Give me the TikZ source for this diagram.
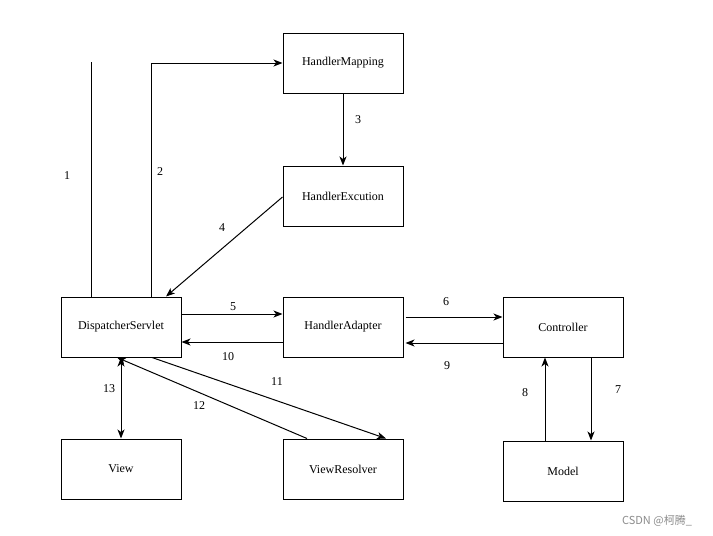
\documentclass[tikz,border=0pt]{standalone}
\usepackage{fontspec}
\setmainfont{Liberation Serif}
\newfontfamily\wmfont{Noto Sans CJK SC}
\usetikzlibrary{arrows.meta}
\begin{document}
\begin{tikzpicture}[x=1pt,y=-1pt,
  box/.style={draw,line width=1pt,minimum width=120pt,minimum height=60pt,inner sep=0pt,font=\fontsize{12}{14}\selectfont},
  conn/.style={line width=1pt,-{Stealth[length=9pt,width=7pt,inset=2.5pt]}},
  plainline/.style={line width=1pt},
  lbl/.style={font=\fontsize{12}{14}\selectfont,inner sep=0pt}]
\useasboundingbox[fill=white] (0,0) rectangle (713,536);
\node[box] (hm) at (343,63) {HandlerMapping};
\node[box] (he) at (343,196) {HandlerExcution};
\node[box] (ds) at (121,327) {DispatcherServlet};
\node[box] (ha) at (343,327) {HandlerAdapter};
\node[box] (ct) at (563,327) {Controller};
\node[box] (vw) at (121,469) {View};
\node[box] (vr) at (343,469) {ViewResolver};
\node[box] (md) at (563,471) {Model};
\coordinate (top1) at (91,62);
\coordinate (c2) at (151,63);
% 1
\draw[plainline] ([xshift=-30pt]ds.north) -- (top1);
\node[lbl] (l1) at (67,176) {1};
% 2
\draw[conn] ([xshift=30pt]ds.north) -- (c2) -- (hm.west);
\node[lbl] (l2) at (160,172) {2};
% 3
\draw[conn] (hm.south) -- (he.north);
\node[lbl] (l3) at (358,120) {3};
% 4
\draw[conn] ([yshift=-1pt]he.west) -- ([xshift=45pt]ds.north);
\node[lbl] (l4) at (222,228) {4};
% 5
\draw[conn] ([yshift=13pt]ds.east) -- ([yshift=13pt]ha.west);
\node[lbl] (l5) at (233,307) {5};
% 10
\draw[conn] ([yshift=-15pt]ha.west) -- ([yshift=-15pt]ds.east);
\node[lbl] (l10) at (228,357) {10};
% 6
\draw[conn] ([xshift=2pt,yshift=10pt]ha.east) -- ([yshift=10pt]ct.west);
\node[lbl] (l6) at (446,302) {6};
% 9
\draw[conn] ([yshift=-16pt]ct.west) -- ([xshift=2pt,yshift=-16pt]ha.east);
\node[lbl] (l9) at (447,366) {9};
% 8
\draw[conn] ([xshift=-18pt]md.north) -- ([xshift=-18pt]ct.south);
\node[lbl] (l8) at (525,393) {8};
% 7
\draw[conn] ([xshift=28pt]ct.south) -- ([xshift=28pt]md.north);
\node[lbl] (l7) at (618,390) {7};
% 13
\draw[line width=1pt,{Stealth[length=9pt,width=7pt,inset=2.5pt]}-{Stealth[length=9pt,width=7pt,inset=2.5pt]}] (ds.south) -- (vw.north);
\node[lbl] (l13) at (109,389) {13};
% 12
\draw[conn] ([xshift=-36pt]vr.north) -- ([xshift=-4pt]ds.south);
\node[lbl] (l12) at (199,406) {12};
% 11
\draw[conn] ([xshift=31pt]ds.south) -- ([xshift=43pt]vr.north);
\node[lbl] (l11) at (277,382) {11};
% watermark
\node[font=\wmfont\fontsize{11}{13}\selectfont,text=black!45,inner sep=0pt] (wm) at (657,521) {CSDN @柯腾\_};
\end{tikzpicture}
\end{document}
